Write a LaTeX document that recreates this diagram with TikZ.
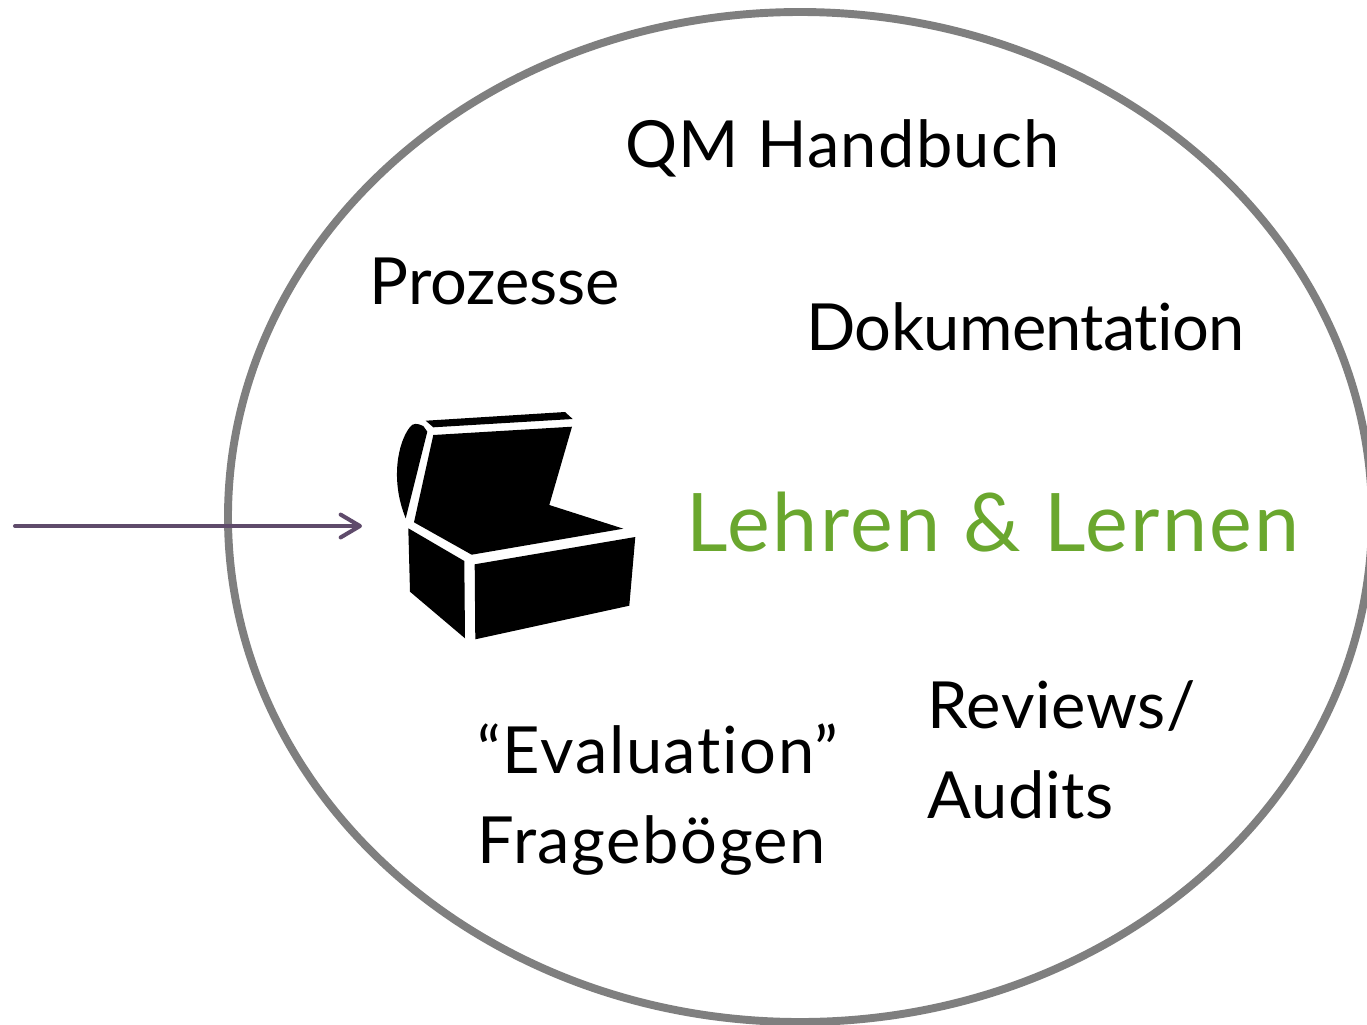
\documentclass[tikz,border=0pt]{standalone}
\usepackage{fontspec}
\setmainfont[Ligatures=NoCommon]{Lato}
\usetikzlibrary{arrows.meta,positioning,shapes.geometric}
\definecolor{ringgray}{HTML}{7F7F7F}
\definecolor{arrowplum}{HTML}{5F4B6B}
\definecolor{leafgreen}{HTML}{6AA72E}
\begin{document}
\begin{tikzpicture}[x=0.02cm,y=-0.02cm,semithick,
    word/.style = {inner sep=0,align=left,anchor=base west,font=\fontsize{37}{51.2}\selectfont\addfontfeature{LetterSpace=#1}},
    word/.default = 1,
    title/.style = {inner sep=0,anchor=base west,text=leafgreen,font=\fontsize{46}{56}\selectfont\addfontfeature{LetterSpace=3}},
    pointer/.style = {arrowplum,line width=2.3pt,line cap=round,-{Straight Barb[length=11pt,width=13pt,line width=2.3pt,round]}}]
    \useasboundingbox (0,0) rectangle (1367,1025);
    \node[draw=ringgray,line width=4.5pt,ellipse,minimum width=1144*0.02cm,minimum height=1010*0.02cm,inner sep=0](ring) at (800,517) {};
    % chest
    \fill (425.7,420.7) -- (565,412) -- (572.7,419) -- (433.3,427.3) -- cycle;
    \fill (433.3,435) -- (572,426.7) -- (549.3,505) -- (623.3,528.7) -- (471.7,554.7) -- (414,522.3) -- cycle;
    \fill (405.7,518.3) -- (427.3,431.7) -- (423.3,426) .. controls (417,423) and (413,423) .. (410,427) .. controls (398,442) and (390,480) .. (405.7,518.3) -- cycle;
    \fill (408.3,528.3) -- (464.3,561) -- (465,638.3) -- (410,591.7) -- cycle;
    \fill (474.7,564.3) -- (635.3,537) -- (629.3,605.7) -- (475.3,639.3) -- cycle;
    \coordinate (start) at (15,526);
    \coordinate (chest) at (362,526);
    \draw[pointer] (start) -- (chest);
    \node[word=2](handbook) at (625,167) {QM Handbuch};
    \node[word=0](process) at (369,304) {Prozesse};
    \node[word=-1](docs) at (806,350) {Dokumentation};
    \node[title](teach) at (686,551) {Lehren \& Lernen};
    \node[word=2.5](survey) at (477,863) {“Evaluation”\\Fragebögen};
    \node[word](review) at (927,818) {Reviews/\\Audits};
\end{tikzpicture}
\end{document}
